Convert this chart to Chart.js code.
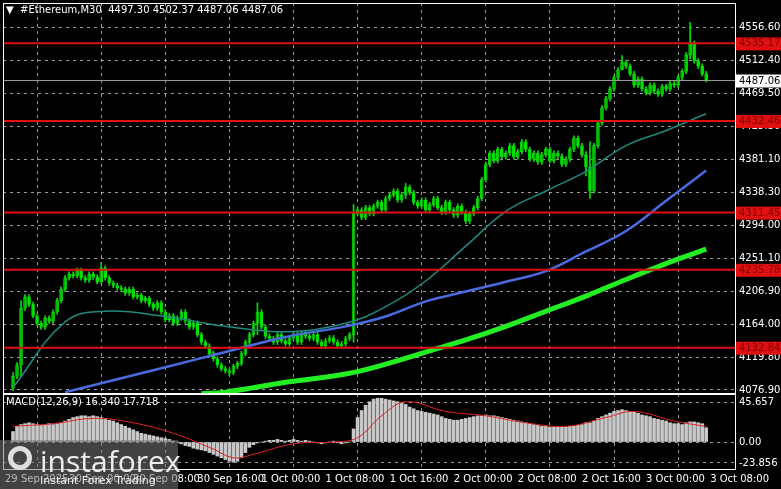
<!DOCTYPE html>
<html>
<head>
<meta charset="utf-8">
<script src="https://cdn.jsdelivr.net/npm/chart.js@4.4.0/dist/chart.umd.min.js"></script>
<style>
  body { margin: 0; background: #000; width: 781px; height: 489px; overflow: hidden; font-family: "DejaVu Sans", sans-serif; }
  #top { position: absolute; left: 0; top: -7px; width: 781px; height: 410px; z-index: 2; }
  #bot { position: absolute; left: 0; top: 384px; width: 781px; height: 105px; z-index: 1; }
  .txt { position: absolute; color: #fff; font-size: 10px; white-space: pre; z-index: 3; }
  #logo { position: absolute; left: 0; top: 440px; width: 178px; height: 49px; background: rgba(120,120,120,0.55); color: #eee; z-index: 3; }
</style>
</head>
<body>
<div id="top"><canvas id="mainChart"></canvas></div>
<div id="bot"><canvas id="macdChart"></canvas></div>
<div class="txt" style="left:6px;top:4px;">▼  #Ethereum,M30  4497.30 4502.37 4487.06 4487.06</div>
<div class="txt" style="left:6px;top:396px;">MACD(12,26,9) 16.340 17.718</div>
<div id="logo">
  <div style="position:absolute;left:8px;top:6px;width:24px;height:24px;border-radius:50%;border:5px solid #ddd;box-sizing:border-box;"></div>
  <div style="position:absolute;left:40px;top:0px;font-size:30px;font-family:'Open Sans',sans-serif;">instaforex</div>
  <div style="position:absolute;left:40px;top:34px;font-size:11px;">Instant Forex Trading</div>
</div>
<script>
'use strict';
// candle closes (30 min bars)
var closes = [4095, 4110, 4185, 4200, 4190, 4175, 4165, 4160, 4172, 4168,
  4180, 4195, 4210, 4225, 4230, 4228, 4235, 4225, 4222, 4230, 4226, 4220, 4238,
  4225, 4218, 4215, 4212, 4210, 4205, 4210, 4200, 4202, 4195, 4198, 4190, 4185, 4192,
  4180, 4170, 4175, 4165, 4172, 4180, 4168, 4160, 4165, 4150, 4140, 4135,
  4125, 4118, 4110, 4105, 4102, 4100, 4108, 4112, 4125, 4140,
  4150, 4165, 4180, 4160, 4148,
  4145, 4140, 4150, 4142, 4138, 4146, 4150, 4140, 4152, 4148, 4145, 4150, 4140, 4135, 4142, 4146, 4140, 4135, 4138, 4145, 4150,
  4310, 4315, 4305, 4318, 4310, 4320, 4325, 4315, 4330, 4335, 4340, 4328, 4335, 4345, 4338, 4325,
  4320, 4328, 4315, 4322, 4330, 4318, 4312, 4325, 4315, 4308, 4320, 4312, 4300, 4310, 4318, 4330,
  4355, 4375, 4390, 4380, 4395, 4385,
  4390, 4400, 4385, 4392, 4405, 4395, 4382, 4390, 4378, 4388, 4395, 4380, 4390, 4386, 4375, 4382, 4395, 4410, 4400, 4388, 4372,
  4340, 4400, 4430,
  4450, 4462, 4475, 4490, 4500, 4510, 4505, 4495,
  4480, 4488, 4475, 4470, 4480, 4472, 4468, 4478, 4475, 4482, 4480, 4490, 4498,
  4520, 4535, 4512, 4505, 4495, 4487.06];
var firstOpen = 4080;
// bars with long wicks: index -> [high, low]
var spikes = { 0: [4100, 4076], 2: [4195, 4095], 22: [4245, 4218], 54: [4106, 4096], 61: [4192, 4150],
  85: [4322, 4140], 98: [4350, 4330], 143: [4392, 4360], 144: [4405, 4330], 152: [4519, 4500], 169: [4563, 4515] };

// moving averages
var maIdx = [0, 13, 23, 38, 53, 68, 83, 93, 103, 113, 123, 133, 143, 153, 163, 173];
var maTeal = [4080, 4167, 4181, 4174, 4161, 4154, 4165, 4187, 4221, 4267, 4313, 4340, 4366, 4400, 4420, 4442];
var maBlueIdx = [13, 23, 38, 53, 68, 83, 93, 103, 113, 123, 133, 143, 153, 163, 173];
var maBlue = [4074, 4087, 4107, 4127, 4147, 4161, 4174, 4194, 4207, 4220, 4234, 4260, 4287, 4327, 4367];
var maGreenIdx = [47, 53, 68, 83, 93, 103, 113, 123, 133, 143, 153, 163, 173];
var maGreen = [4072, 4074, 4087, 4098, 4111, 4127, 4143, 4161, 4181, 4201, 4223, 4244, 4263];

// levels
var levels = [4535.17, 4432.46, 4311.45, 4235.78, 4132.84];
var lastPrice = 4487.06;
var priceTicks = [4556.60, 4512.40, 4469.50, 4425.30, 4381.10, 4338.30, 4294.00, 4251.10, 4206.90, 4164.00, 4119.80, 4076.90];

// MACD
var macdHist = [12, 18, 20, 21, 22, 21, 20, 19, 20, 21, 20,
  21, 22, 24, 26, 28, 29, 30, 30, 29, 30, 29, 28,
  27, 25, 24, 22, 20, 18, 16, 14, 12, 10, 9, 8, 7, 6,
  5, 4, 3, 1, 0, -2, -4, -5, -7, -8, -9, -10,
  -12, -14, -16, -18, -20, -22, -23, -22, -18, -12,
  -6, -3, -1, 0, 1,
  2, 2, 3, 2, 1, 2, 3, 2, 1, 2, 1, 0, -1, -2, -1, 0, 1, -1, -2, -1, 0,
  15, 28, 36, 42, 46, 49, 50, 50, 49, 48, 47, 46, 45, 43, 40, 38,
  36, 35, 34, 33, 32, 31, 29, 27, 26, 25, 25, 26, 27, 28, 29, 30,
  30, 31, 30, 30, 29, 28,
  27, 26, 25, 24, 23, 22, 21, 20, 19, 18, 18, 17, 17, 17, 17, 17, 18, 18, 19, 20, 22,
  22, 24, 27,
  29, 31, 33, 35, 36, 37, 36, 35,
  34, 33, 31, 30, 29, 27, 26, 25, 24, 22, 21, 21, 20,
  22, 23, 23, 22, 21, 16.34];
var sigIdx = [0, 10, 20, 30, 40, 50, 55, 60, 70, 80, 86, 92, 98, 108, 118, 128, 138, 148, 155, 165, 173];
var sigVals = [18, 21, 27, 22, 10, -8, -18, -14, -2, 0, 5, 30, 46, 35, 30, 22, 18, 28, 35, 24, 17.7];
var macdTicks = [45.657, 0, -23.856];

var timeLabels = ['29 Sep 2025', '30 Sep 00:00', '30 Sep 08:00', '30 Sep 16:00', '1 Oct 00:00', '1 Oct 08:00',
  '1 Oct 16:00', '2 Oct 00:00', '2 Oct 08:00', '2 Oct 16:00', '3 Oct 00:00', '3 Oct 08:00'];
var timeTickIdx = [-2, 14, 30, 46, 62, 78, 94, 110, 126, 142, 158, 174];

// build candle datasets
var bodies = [], wicks = [], bodyFill = [];
var prev = firstOpen;
for (var i = 0; i < closes.length; i++) {
  var o = prev, c = closes[i];
  var hi = Math.max(o, c) + 3, lo = Math.min(o, c) - 3;
  if (spikes[i]) { hi = spikes[i][0]; lo = spikes[i][1]; }
  bodies.push({ x: i, y: [o, c === o ? o + 0.5 : c] });
  wicks.push({ x: i, y: [lo, hi] });
  bodyFill.push(c >= o ? '#000' : '#00e000');
  prev = c;
}
function pts(idx, vals) { return idx.map(function (k, j) { return { x: k, y: vals[j] }; }); }

var font = { family: 'DejaVu Sans', size: 10 };
var dashGrid = { color: 'rgba(220,220,220,0.7)', drawTicks: false };
var dashBorder = { display: false, dash: [3, 4] };

var levelPlugin = {
  id: 'levels',
  afterDatasetsDraw: function (chart) {
    var ctx = chart.ctx, a = chart.chartArea, y = chart.scales.y;
    ctx.save();
    var py = Math.round(y.getPixelForValue(lastPrice)) + 0.5;
    ctx.strokeStyle = '#9a9a9a'; ctx.lineWidth = 1;
    ctx.beginPath(); ctx.moveTo(a.left, py); ctx.lineTo(a.right, py); ctx.stroke();
    ctx.strokeStyle = '#e01010'; ctx.lineWidth = 2;
    levels.forEach(function (v) {
      var ly = y.getPixelForValue(v);
      ctx.beginPath(); ctx.moveTo(a.left, ly); ctx.lineTo(a.right, ly); ctx.stroke();
    });
    ctx.font = '10px DejaVu Sans'; ctx.textBaseline = 'middle';
    levels.forEach(function (v) {
      var ly = y.getPixelForValue(v);
      ctx.fillStyle = '#e01010'; ctx.fillRect(a.right + 1, ly - 6, 45, 13);
      ctx.fillStyle = '#800000'; ctx.fillText(v.toFixed(2), a.right + 4, ly + 0.5);
    });
    ctx.fillStyle = '#fff'; ctx.fillRect(a.right + 1, py - 6, 45, 13);
    ctx.fillStyle = '#000'; ctx.fillText(lastPrice.toFixed(2), a.right + 4, py + 0.5);
    ctx.strokeStyle = '#fff'; ctx.lineWidth = 1;
    ctx.strokeRect(a.left + 0.5, a.top + 0.5, a.right - a.left, a.bottom - a.top);
    ctx.restore();
  }
};
var framePlugin = {
  id: 'frame',
  afterDatasetsDraw: function (chart) {
    var ctx = chart.ctx, a = chart.chartArea;
    ctx.save(); ctx.strokeStyle = '#fff'; ctx.lineWidth = 1;
    ctx.strokeRect(a.left + 0.5, a.top + 0.5, a.right - a.left, a.bottom - a.top);
    ctx.restore();
  }
};
// main chart: black only down to the plot bottom, so the MACD panel shows below
var bgTop = {
  id: 'bgTop',
  beforeDraw: function (chart) {
    var a = chart.chartArea;
    chart.ctx.save(); chart.ctx.fillStyle = '#000';
    chart.ctx.fillRect(0, 0, chart.width, a.bottom + 1);
    chart.ctx.restore();
  }
};
var bg = {
  id: 'bg',
  beforeDraw: function (chart) {
    chart.ctx.save(); chart.ctx.fillStyle = '#000';
    chart.ctx.fillRect(0, 0, chart.width, chart.height); chart.ctx.restore();
  }
};

function xScale(showLabels) {
  return {
    type: 'linear', min: -2.5, max: 180.2, offset: false,
    grid: dashGrid, border: dashBorder,
    afterBuildTicks: function (s) { s.ticks = timeTickIdx.map(function (v) { return { value: v }; }); },
    ticks: {
      display: showLabels, color: '#fff', font: font, maxRotation: 0, autoSkip: false, align: 'start', padding: 4,
      callback: function (v) { var j = timeTickIdx.indexOf(v); return j >= 0 ? timeLabels[j] : ''; }
    },
    afterFit: function (s) { if (!showLabels) s.height = 0; }
  };
}

new Chart(document.getElementById('mainChart'), {
  type: 'bar',
  data: {
    datasets: [
      { type: 'line', data: pts(maIdx, maTeal), borderColor: '#1f8a80', borderWidth: 1.5, pointRadius: 0, tension: 0.4 },
      { type: 'line', data: pts(maBlueIdx, maBlue), borderColor: '#4a6be0', borderWidth: 2.5, pointRadius: 0, tension: 0.4 },
      { type: 'line', data: pts(maGreenIdx, maGreen), borderColor: '#22ee22', borderWidth: 5, pointRadius: 0, tension: 0.4 },
      { data: wicks, backgroundColor: '#00e000', barThickness: 1, grouped: false },
      { data: bodies, backgroundColor: bodyFill, borderColor: '#00e000', borderWidth: 1, borderSkipped: false, barThickness: 3, grouped: false }
    ]
  },
  options: {
    responsive: true, maintainAspectRatio: false, animation: false,
    layout: { padding: { left: 3, top: 0, bottom: 0, right: 0 } },
    plugins: { legend: { display: false }, tooltip: { enabled: false } },
    scales: {
      x: xScale(false),
      y: {
        position: 'right', min: 4072.9, max: 4588.5,
        grid: dashGrid, border: dashBorder,
        afterBuildTicks: function (s) { s.ticks = priceTicks.map(function (v) { return { value: v }; }); },
        ticks: { color: '#fff', font: font, padding: 4, callback: function (v) { return v.toFixed(2); } },
        afterFit: function (s) { s.width = 46; }
      }
    }
  },
  plugins: [bgTop, levelPlugin]
});

new Chart(document.getElementById('macdChart'), {
  type: 'bar',
  data: {
    datasets: [
      { type: 'line', data: pts(sigIdx, sigVals), borderColor: '#e02020', borderWidth: 1, pointRadius: 0, tension: 0.4 },
      { data: macdHist.map(function (v, k) { return { x: k, y: v }; }), backgroundColor: '#c8c8c8', barThickness: 3 }
    ]
  },
  options: {
    responsive: true, maintainAspectRatio: false, animation: false,
    layout: { padding: { left: 3, top: 0, right: 0, bottom: 0 } },
    plugins: { legend: { display: false }, tooltip: { enabled: false } },
    scales: {
      x: xScale(true),
      y: {
        position: 'right', min: -30.8, max: 54.9,
        grid: dashGrid, border: dashBorder,
        afterBuildTicks: function (s) { s.ticks = macdTicks.map(function (v) { return { value: v }; }); },
        ticks: { color: '#fff', font: font, padding: 4, callback: function (v) { return v === 0 ? '0.00' : String(v); } },
        afterFit: function (s) { s.width = 46; }
      }
    }
  },
  plugins: [bg, framePlugin]
});
</script>
</body>
</html>
